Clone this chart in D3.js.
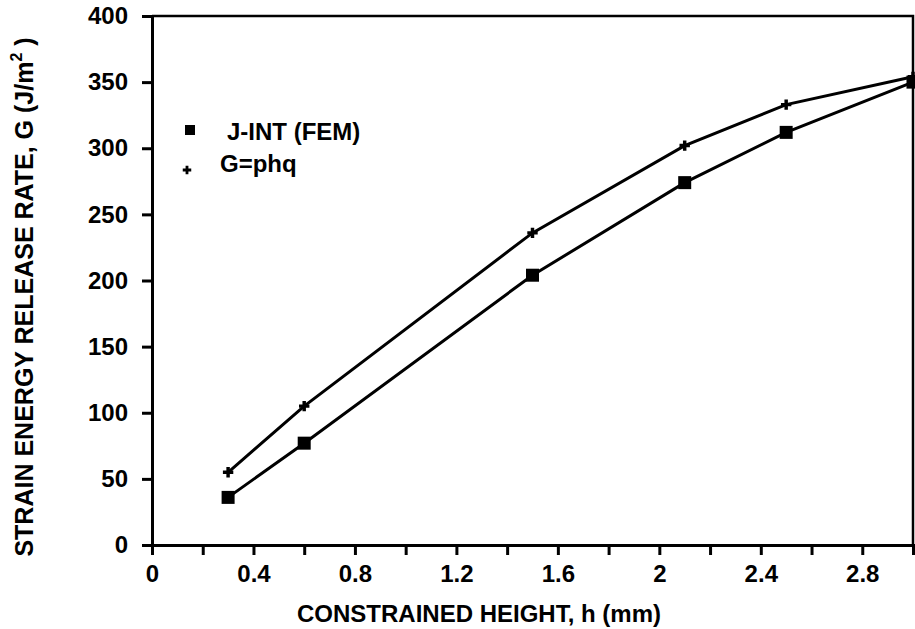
<!DOCTYPE html>
<html>
<head>
<meta charset="utf-8">
<script src="https://cdn.jsdelivr.net/npm/d3@7"></script>
<style>
  body { margin: 0; background: #fff; }
  svg { display: block; font-family: "Liberation Sans", Arial, sans-serif; font-weight: bold; }
</style>
</head>
<body>
<svg id="chart" width="915" height="629"></svg>
<script>
// values
const hValues = [0.3, 0.6, 1.5, 2.1, 2.5, 3.0];
const jIntFem = [36, 77, 204, 274, 312, 350];
const gPhq = [55, 105, 236, 302, 333, 354];
const xTicks = d3.range(0, 3.0001, 0.2);
const xLabels = [0, 0.4, 0.8, 1.2, 1.6, 2, 2.4, 2.8];
const yTicks = [0, 50, 100, 150, 200, 250, 300, 350, 400];

const svg = d3.select('#chart');
const margin = { left: 152, right: 2, top: 16, bottom: 84 };
const width = 915, height = 629;
const fs = 24;

const x = d3.scaleLinear().domain([0, 3]).range([margin.left, width - margin.right]);
const y = d3.scaleLinear().domain([0, 400]).range([height - margin.bottom, margin.top]);

// frame: top and right edges
svg.append('path')
  .attr('d', `M${x(0)},${y(400)}H${x(3)}V${y(0)}`)
  .attr('fill', 'none').attr('stroke', '#000').attr('stroke-width', 2.5);

// x axis
const xAxis = svg.append('g')
  .attr('transform', `translate(0,${y(0)})`)
  .call(d3.axisBottom(x).tickValues(xTicks).tickSize(10).tickPadding(10)
    .tickFormat(d => xLabels.some(v => Math.abs(v - d) < 1e-9) ? d3.format('~g')(+d.toFixed(1)) : ''));
xAxis.select('.domain').attr('stroke-width', 3);
xAxis.selectAll('.tick line').attr('stroke-width', 3);
xAxis.selectAll('.tick text').attr('font-size', fs).attr('font-family', 'Liberation Sans')
  .attr('font-weight', 'bold').attr('fill', '#000');

// y axis
const yAxis = svg.append('g')
  .attr('transform', `translate(${x(0)},0)`)
  .call(d3.axisLeft(y).tickValues(yTicks).tickSize(10).tickPadding(14));
yAxis.select('.domain').attr('stroke-width', 3);
yAxis.selectAll('.tick line').attr('stroke-width', 3);
yAxis.selectAll('.tick text').attr('font-size', fs).attr('font-family', 'Liberation Sans')
  .attr('font-weight', 'bold').attr('fill', '#000');

// axis titles
svg.append('text')
  .attr('x', 479).attr('y', 622)
  .attr('text-anchor', 'middle').attr('font-size', fs)
  .text('CONSTRAINED HEIGHT, h (mm)');

const yTitle = svg.append('text')
  .attr('transform', `translate(33,297) rotate(-90)`)
  .attr('text-anchor', 'middle').attr('font-size', 25);
yTitle.append('tspan').text('STRAIN ENERGY RELEASE RATE, G (J/m');
yTitle.append('tspan').attr('font-size', 16).attr('dy', -11).text('2');
yTitle.append('tspan').attr('dy', 11).text(' )');

// series
const line = d3.line().x(d => x(d[0])).y(d => y(d[1]));
const jData = hValues.map((h, i) => [h, jIntFem[i]]);
const gData = hValues.map((h, i) => [h, gPhq[i]]);

svg.append('path').datum(gData).attr('d', line)
  .attr('fill', 'none').attr('stroke', '#000').attr('stroke-width', 3);
svg.append('path').datum(jData).attr('d', line)
  .attr('fill', 'none').attr('stroke', '#000').attr('stroke-width', 3);

const sq = 13;
svg.append('g').selectAll('rect').data(jData).join('rect')
  .attr('x', d => x(d[0]) - sq / 2).attr('y', d => y(d[1]) - sq / 2)
  .attr('width', sq).attr('height', sq).attr('fill', '#000');

const plus = d3.symbol(d3.symbolCross, 60);
svg.append('g').selectAll('path').data(gData).join('path')
  .attr('transform', d => `translate(${x(d[0])},${y(d[1])})`)
  .attr('d', plus).attr('fill', '#000');

// legend
const legend = svg.append('g');
legend.append('rect').attr('x', 185).attr('y', 125).attr('width', 10).attr('height', 10).attr('fill', '#000');
legend.append('text').attr('x', 227).attr('y', 140).attr('font-size', fs).text('J-INT (FEM)');
legend.append('path').attr('transform', 'translate(187,170)').attr('d', d3.symbol(d3.symbolCross, 40)).attr('fill', '#000');
legend.append('text').attr('x', 220).attr('y', 172).attr('font-size', fs).text('G=phq');
</script>
</body>
</html>
